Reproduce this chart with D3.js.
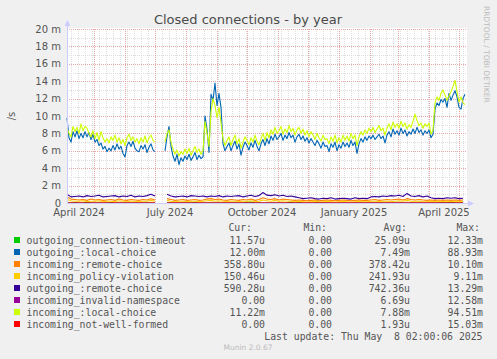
<!DOCTYPE html>
<html><head><meta charset="utf-8">
<script src="https://cdn.jsdelivr.net/npm/d3@7"></script>
<style>
html,body{margin:0;padding:0;background:#F0F0F0;}
svg{display:block;}
text{font-family:"DejaVu Sans",sans-serif;}
.mono{font-family:"DejaVu Sans Mono",monospace;}
</style></head>
<body>
<svg id="c" width="497" height="359"></svg>
<script>
// ---- data (values in milli per second) ----
const startDate = new Date(2024, 3, 4);
const endDate = new Date(2025, 4, 9);
const mainStepDays = 2;   // local-choice series sampled every 2 days
const lowStepDays = 4;    // small series sampled every 4 days

const outgoingLocal = [
  9.8,7.5,7.0,8.2,7.6,8.3,7.4,8.0,7.5,8.2,
  7.6,8.1,7.3,7.9,7.0,7.3,6.6,6.9,6.2,6.5,
  5.9,6.3,6.0,6.6,6.1,6.8,6.2,6.5,5.7,5.3,
  6.6,7.0,6.5,7.1,6.3,6.0,5.9,6.6,6.2,6.7,
  5.8,6.4,6.8,6.1,5.9,null,null,null,null,
  6.0,7.6,8.8,6.5,5.4,4.8,5.6,4.4,5.2,4.8,5.4,
  5.0,5.6,4.9,5.3,5.8,5.0,5.5,5.1,5.3,10.0,
  8.5,5.8,12.5,11.8,13.8,11.2,12.6,11.0,6.8,6.0,
  6.5,6.9,6.0,6.6,7.1,6.2,6.8,5.5,6.4,7.0,
  6.6,6.1,6.9,6.4,7.2,6.5,6.0,6.8,7.3,6.6,
  7.4,6.8,7.7,7.2,7.9,7.3,7.6,8.0,7.2,7.8,
  7.4,8.1,7.5,7.8,7.0,7.6,7.9,7.3,7.7,7.1,
  7.5,6.9,7.4,7.0,6.6,7.2,6.8,6.3,7.0,6.5,
  6.6,5.9,6.8,6.4,7.0,6.0,6.7,6.3,7.0,6.5,
  6.9,6.4,7.2,6.6,7.0,5.7,6.8,7.4,7.0,7.6,
  7.2,7.7,7.4,7.8,7.3,7.6,7.9,7.4,7.7,6.9,
  7.8,8.2,7.6,8.5,7.9,8.3,7.8,8.6,8.0,8.4,
  7.7,8.2,7.9,8.5,8.0,8.7,8.1,8.4,7.8,8.3,
  8.0,8.4,7.5,7.9,
  10.8,11.5,11.2,11.9,11.6,12.0,11.0,12.6,11.8,12.4,12.9,12.2,11.0,10.8,12.0,12.5];
const incomingLocal = [
  8.6,8.0,7.6,8.8,8.2,8.7,8.0,9.1,8.3,8.8,
  8.6,8.0,7.6,8.3,7.4,8.1,7.2,8.2,7.5,7.0,
  7.4,6.9,7.6,7.2,7.8,7.0,7.5,6.8,7.3,6.6,
  7.5,7.9,7.2,7.6,7.0,7.4,6.8,7.5,7.0,7.7,
  6.9,7.5,7.8,7.2,7.0,null,null,null,null,
  7.0,8.0,8.4,7.0,6.2,5.6,6.1,5.4,5.9,5.6,6.2,
  5.7,6.3,5.5,6.0,6.5,5.8,6.2,5.6,6.0,9.4,
  8.0,6.5,10.5,12.0,11.2,9.8,11.0,9.2,7.4,6.6,
  7.2,7.6,6.6,7.3,7.8,6.8,7.4,6.3,7.0,7.6,
  7.2,6.7,7.5,7.0,7.8,7.1,6.7,7.4,8.0,7.2,
  8.1,7.5,8.4,7.9,8.7,8.0,8.3,8.8,7.9,8.5,
  8.1,8.9,8.2,8.6,7.8,8.4,8.7,8.0,8.5,7.8,
  8.3,7.6,8.2,7.8,7.3,8.0,7.5,7.1,7.8,7.3,
  7.4,6.8,7.6,7.1,7.8,6.9,7.5,7.0,7.8,7.2,
  7.7,7.1,8.0,7.4,7.8,6.6,7.6,8.2,7.8,8.4,
  8.0,8.6,8.2,8.7,8.1,8.5,8.9,8.3,8.6,7.8,
  8.6,9.1,8.4,9.3,8.7,9.1,8.6,9.4,8.8,9.2,
  8.5,9.0,8.7,9.4,10.2,9.5,8.9,9.2,8.6,9.1,
  8.8,9.2,7.9,8.4,
  11.5,12.2,11.8,12.6,13.0,12.4,11.8,12.3,12.8,13.4,14.1,12.8,11.6,12.2,11.5,11.3];
const outgoingRemote = [1.0,0.7,0.75,0.8,0.7,0.85,0.75,0.8,0.9,0.7,0.75,0.8,0.85,0.7,0.8,0.75,0.9,0.7,0.8,0.75,0.85,1.0,0.8,null,null,
  1.0,0.8,0.7,0.75,0.8,0.7,0.85,0.8,0.75,0.8,0.7,0.8,0.75,0.85,0.7,0.8,0.75,0.8,0.85,0.7,0.8,0.9,0.75,0.85,1.2,
  0.9,0.85,0.95,0.8,0.9,0.75,0.8,0.7,0.6,0.5,0.55,0.6,0.5,0.45,0.55,0.5,0.6,0.45,0.5,0.55,0.5,0.45,0.6,0.5,0.55,
  0.5,0.7,0.75,0.7,0.8,0.75,0.85,0.8,0.9,0.75,1.1,0.8,0.75,0.85,0.7,0.8,0.6,0.5,0.55,0.5,0.6,0.55,0.6,0.5,0.55];
const incomingRemote = [0.7,0.45,0.4,0.35,0.4,0.3,0.45,0.35,0.4,0.3,0.35,0.4,0.3,0.45,0.35,0.3,0.4,0.35,0.3,0.4,0.35,0.5,0.35,null,null,
  0.5,0.4,0.3,0.35,0.4,0.3,0.35,0.4,0.3,0.35,0.45,0.5,0.4,0.45,0.35,0.3,0.4,0.35,0.3,0.4,0.35,0.45,0.3,0.4,0.6,
  0.45,0.4,0.5,0.35,0.45,0.4,0.35,0.3,0.35,0.3,0.25,0.3,0.35,0.25,0.3,0.35,0.3,0.25,0.3,0.35,0.3,0.25,0.3,0.35,0.3,
  0.3,0.35,0.4,0.3,0.35,0.4,0.35,0.4,0.45,0.35,0.5,0.4,0.35,0.4,0.35,0.3,0.35,0.3,0.35,0.3,0.35,0.3,0.35,0.3,0.35];
const incomingPolicy = [0.4,0.25,0.2,0.2,0.25,0.15,0.2,0.2,0.25,0.15,0.2,0.2,0.15,0.25,0.2,0.15,0.2,0.2,0.15,0.2,0.2,0.3,0.2,null,null,
  0.3,0.2,0.15,0.2,0.2,0.15,0.2,0.2,0.15,0.2,0.25,0.3,0.2,0.25,0.2,0.15,0.2,0.2,0.15,0.2,0.2,0.25,0.15,0.2,0.35,
  0.25,0.2,0.3,0.2,0.25,0.2,0.2,0.15,0.2,0.15,0.1,0.15,0.2,0.1,0.15,0.2,0.15,0.1,0.15,0.2,0.15,0.1,0.15,0.2,0.15,
  0.15,0.2,0.2,0.15,0.2,0.2,0.15,0.2,0.25,0.2,0.3,0.2,0.2,0.2,0.15,0.15,0.2,0.15,0.2,0.15,0.2,0.15,0.2,0.15,0.2];
const outgoingTimeout = [0,0,0.05,0,0,0.1,0,0,0,0,0,0.05,0,0,0,0,0,0,0,0,0,0,0,null,null,
  0,0,0,0,0,0,0,0.05,0,0,0,0,0,0,0,0,0,0,0,0,0.1,0.1,0,0,0,
  0,0,0,0,0,0,0.1,0,0.05,0,0,0,0,0.1,0,0,0,0,0,0,0,0,0,0,0,
  0,0,0,0,0,0,0,0,0,0,0,0,0,0,0,0,0,0,0,0.05,0,0.1,0,0,0];
const incomingInvalid = [0,0,0,0,0,0,0,0,0,0,0,0,0,0,0,0,0,0,0,0,0,0,0,null,null,
  0,0,0,0,0,0,0,0,0,0,0,0,0,0,0,0,0,0,0,0,0,0,0,0,0,
  0,0,0,0,0,0,0,0,0,0,0,0,0,0,0,0,0,0,0,0,0,0,0,0,0,
  0,0,0,0,0,0,0,0,0,0,0,0,0,0,0,0,0,0,0,0,0,0,0,0,0];
const incomingNotWellFormed = incomingInvalid.slice();

const seriesNames = ["outgoing_connection-timeout","outgoing_:local-choice","incoming_:remote-choice","incoming_policy-violation",
  "outgoing_:remote-choice","incoming_invalid-namespace","incoming_:local-choice","incoming_not-well-formed"];
const seriesColors = ["#00CC00","#0066B3","#FF8000","#FFCC00","#330099","#990099","#CCFF00","#FF0000"];
const seriesValues = [outgoingTimeout,outgoingLocal,incomingRemote,incomingPolicy,outgoingRemote,incomingInvalid,incomingLocal,incomingNotWellFormed];
const seriesSteps = [lowStepDays,mainStepDays,lowStepDays,lowStepDays,lowStepDays,lowStepDays,mainStepDays,lowStepDays];
const curVals = ["11.57u","12.00m","358.80u","150.46u","590.28u","0.00","11.22m","0.00"];
const minVals = ["0.00","0.00","0.00","0.00","0.00","0.00","0.00","0.00"];
const avgVals = ["25.09u","7.49m","378.42u","241.93u","742.36u","6.69u","7.88m","1.93u"];
const maxVals = ["12.33m","88.93m","10.10m","9.11m","13.29m","12.58m","94.51m","15.03m"];
const yTicks = [0,2,4,6,8,10,12,14,16,18,20]; // in milli (m)
const xLabelMonths = [new Date(2024,3,1),new Date(2024,6,1),new Date(2024,9,1),new Date(2025,0,1),new Date(2025,3,1)];

// ---- drawing ----
const svg = d3.select("#c");
const L = 67, R = 467, T = 29, B = 203;
const x = d3.scaleTime().domain([startDate, endDate]).range([L, R]);
const y = d3.scaleLinear().domain([0, 20]).range([B, T]);

svg.append("rect").attr("x",0).attr("y",0).attr("width",497).attr("height",359).attr("fill","#F0F0F0");
svg.append("rect").attr("x",L).attr("y",T-1).attr("width",R-L).attr("height",B-T+1).attr("fill","#FFFFFF");

// grid
const g = svg.append("g");
const minorY = d3.range(0, 21, 1).filter(v => v % 2 !== 0);
g.selectAll(".ymin").data(minorY).enter().append("line")
  .attr("x1",L).attr("x2",R).attr("y1",d=>Math.round(y(d))+0.5).attr("y2",d=>Math.round(y(d))+0.5)
  .attr("stroke","#DDDDDD").attr("stroke-dasharray","1,1");
const weeks = d3.timeMonday.range(startDate, endDate);
g.selectAll(".xmin").data(weeks).enter().append("line")
  .attr("x1",d=>Math.round(x(d))+0.5).attr("x2",d=>Math.round(x(d))+0.5).attr("y1",T).attr("y2",B)
  .attr("stroke","#DDDDDD").attr("stroke-dasharray","1,1");
g.selectAll(".ymaj").data(yTicks.filter(v=>v>0)).enter().append("line")
  .attr("x1",L).attr("x2",R).attr("y1",d=>Math.round(y(d))+0.5).attr("y2",d=>Math.round(y(d))+0.5)
  .attr("stroke","#E8A8A8").attr("stroke-dasharray","1,1");
const months = d3.timeMonth.range(startDate, endDate);
g.selectAll(".xmaj").data(months).enter().append("line")
  .attr("x1",d=>Math.round(x(d))+0.5).attr("x2",d=>Math.round(x(d))+0.5).attr("y1",T).attr("y2",B)
  .attr("stroke","#E8A8A8").attr("stroke-dasharray","1,1");

// series
seriesValues.forEach((vals, k) => {
  const step = seriesSteps[k];
  const ln = d3.line().defined(d=>d!==null).x((d,i)=>x(d3.timeDay.offset(startDate, i*step))).y(d=>y(d));
  svg.append("path").datum(vals).attr("d", ln)
    .attr("fill","none").attr("stroke",seriesColors[k]).attr("stroke-width",1.1).attr("stroke-linejoin","round");
});

// axes
svg.append("line").attr("x1",L+0.5).attr("x2",L+0.5).attr("y1",B).attr("y2",T-4).attr("stroke","#CCCCFF");
svg.append("line").attr("x1",L).attr("x2",R+2).attr("y1",B+0.5).attr("y2",B+0.5).attr("stroke","#CCCCFF");
svg.append("path").attr("d",`M${L-2.5},${T-3}L${L+3.5},${T-3}L${L+0.5},${T-9}Z`).attr("fill","#CCCCFF");
svg.append("path").attr("d",`M${R+1},${B-2.5}L${R+1},${B+3.5}L${R+7},${B+0.5}Z`).attr("fill","#CCCCFF");

// y labels
svg.selectAll(".yl").data(yTicks).enter().append("text")
  .attr("x",61).attr("y",d=>y(d)+3.5).attr("text-anchor","end").attr("font-size",10).attr("fill","#555")
  .text(d=>d===0?"0":d+" m");
// x labels (rrdtool centers month labels half a month after month start)
svg.selectAll(".xl").data(xLabelMonths).enter().append("text")
  .attr("x",d=>x(d3.timeDay.offset(d,15))).attr("y",216).attr("text-anchor","middle").attr("font-size",10).attr("fill","#555")
  .text(d=>d3.timeFormat("%B %Y")(d));

// title etc
svg.append("text").attr("x",248).attr("y",24).attr("text-anchor","middle").attr("font-size",13).attr("fill","#4a4a4a")
  .text("Closed connections - by year");
svg.append("text").attr("transform","translate(15,116) rotate(-90)").attr("text-anchor","middle").attr("font-size",10).attr("fill","#555").text("/s");
svg.append("text").attr("transform","translate(484,6) rotate(90)").attr("text-anchor","start").attr("font-size",7.5).attr("fill","#BBBBBB").text("RRDTOOL / TOBI OETIKER");

// legend
const rowY = i => 240 + i*12;
const lg = svg.append("g");
const mono = (sel) => sel.attr("class","mono").attr("font-size",9.8).attr("fill","#555");
mono(lg.append("text")).attr("x",252).attr("y",230.5).attr("text-anchor","end").text("Cur:");
mono(lg.append("text")).attr("x",327).attr("y",230.5).attr("text-anchor","end").text("Min:");
mono(lg.append("text")).attr("x",407).attr("y",230.5).attr("text-anchor","end").text("Avg:");
mono(lg.append("text")).attr("x",480).attr("y",230.5).attr("text-anchor","end").text("Max:");
seriesNames.forEach((n,i)=>{
  lg.append("rect").attr("x",14).attr("y",rowY(i)-3).attr("width",6).attr("height",6).attr("fill",seriesColors[i]);
  mono(lg.append("text")).attr("x",26.5).attr("y",rowY(i)+3.5).text(n);
  mono(lg.append("text")).attr("x",265).attr("y",rowY(i)+3.5).attr("text-anchor","end").text(curVals[i]);
  mono(lg.append("text")).attr("x",332).attr("y",rowY(i)+3.5).attr("text-anchor","end").text(minVals[i]);
  mono(lg.append("text")).attr("x",410).attr("y",rowY(i)+3.5).attr("text-anchor","end").text(avgVals[i]);
  mono(lg.append("text")).attr("x",483).attr("y",rowY(i)+3.5).attr("text-anchor","end").text(maxVals[i]);
});
mono(lg.append("text")).attr("x",482.5).attr("y",340).attr("text-anchor","end").style("white-space","pre")
  .text("Last update: Thu May  8 02:00:06 2025");
svg.append("text").attr("x",248).attr("y",350).attr("text-anchor","middle").attr("font-size",7.5).attr("fill","#BBBBBB").text("Munin 2.0.67");
</script>
</body></html>
